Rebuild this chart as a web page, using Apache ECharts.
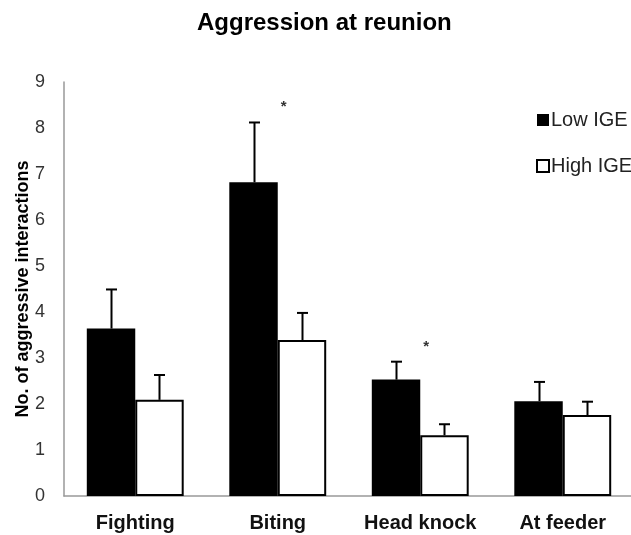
<!DOCTYPE html>
<html>
<head>
<meta charset="utf-8">
<script src="https://cdn.jsdelivr.net/npm/echarts@6/dist/echarts.min.js"></script>
<style>
  html, body { margin: 0; padding: 0; background: #fff; }
  #main { width: 631px; height: 535px; }
</style>
</head>
<body>
<div id="main"></div>
<script>
var categories = ['Fighting', 'Biting', 'Head knock', 'At feeder'];
var lowIGE = [3.64, 6.82, 2.53, 2.06];
var lowIGEErrTop = [4.49, 8.12, 2.92, 2.48];
var highIGE = [2.09, 3.39, 1.32, 1.76];
var highIGEErrTop = [2.63, 3.98, 1.56, 2.05];
// significance stars (height on the y scale), '-' = none
var stars = ['-', 8.46, 3.24, '-'];
var yTicks = [0, 1, 2, 3, 4, 5, 6, 7, 8, 9];

var BAR_FRAC = 0.34;

function errData (vals, tops) {
  return vals.map(function (v, i) { return [i, v, tops[i]]; });
}

function errRender (side) {
  return function (params, api) {
    var band = api.size([1, 0])[0];
    var off = side * band * BAR_FRAC / 2;
    var p0 = api.coord([api.value(0), api.value(1)]);
    var p1 = api.coord([api.value(0), api.value(2)]);
    var x = Math.round(p0[0] + off) + 0.5;
    var st = { stroke: '#000', lineWidth: 2 };
    return {
      type: 'group',
      children: [
        { type: 'line', shape: { x1: x, y1: p0[1], x2: x, y2: p1[1] }, style: st },
        { type: 'line', shape: { x1: x - 5.5, y1: p1[1], x2: x + 5.5, y2: p1[1] }, style: st }
      ]
    };
  };
}

var chart = echarts.init(document.getElementById('main'));
var option = {
  animation: false,
  backgroundColor: '#fff',
  title: {
    text: 'Aggression at reunion',
    left: 192,
    top: 6,
    textStyle: { fontFamily: 'Liberation Sans', fontSize: 24, fontWeight: 'bold', color: '#000' }
  },
  legend: {
    data: ['Low IGE', 'High IGE'],
    orient: 'vertical',
    left: 531,
    top: 105,
    itemWidth: 12,
    itemHeight: 12,
    itemGap: 26,
    icon: 'rect',
    textStyle: { fontFamily: 'Liberation Sans', fontSize: 20, color: '#222', padding: [0, 0, 0, -3] }
  },
  grid: { left: 64, width: 570, top: 82, bottom: 39, outerBoundsMode: 'none', containLabel: false },
  xAxis: {
    type: 'category',
    data: categories,
    axisLine: { lineStyle: { color: '#999', width: 1.5 } },
    axisTick: { show: false },
    axisLabel: {
      interval: 0,
      hideOverlap: false,
      margin: 17,
      fontFamily: 'Liberation Sans',
      fontSize: 20,
      fontWeight: 'bold',
      color: '#111'
    }
  },
  yAxis: {
    type: 'value',
    min: yTicks[0],
    max: yTicks[yTicks.length - 1],
    interval: 1,
    name: 'No. of aggressive interactions',
    nameLocation: 'middle',
    nameGap: 32,
    nameMoveOverlap: false,
    nameTextStyle: { fontFamily: 'Liberation Sans', fontSize: 18, fontWeight: 'bold', color: '#000' },
    axisLine: { show: true, lineStyle: { color: '#999', width: 1.5 } },
    axisTick: { show: false },
    splitLine: { show: false },
    axisLabel: { margin: 19, fontFamily: 'Liberation Sans', fontSize: 18, color: '#333' }
  },
  series: [
    {
      name: 'Low IGE',
      type: 'bar',
      data: lowIGE,
      barWidth: (BAR_FRAC * 100) + '%',
      barGap: '0%',
      itemStyle: { color: '#000', borderColor: '#000', borderWidth: 0 }
    },
    {
      name: 'High IGE',
      type: 'bar',
      data: highIGE,
      barWidth: (BAR_FRAC * 100) + '%',
      barGap: '0%',
      itemStyle: { color: '#fff', borderColor: '#000', borderWidth: 2 }
    },
    {
      type: 'custom',
      data: errData(lowIGE, lowIGEErrTop),
      renderItem: errRender(-1),
      z: 5,
      silent: true
    },
    {
      type: 'custom',
      data: errData(highIGE, highIGEErrTop),
      renderItem: errRender(1),
      z: 5,
      silent: true
    },
    {
      type: 'custom',
      data: stars.map(function (s, i) { return [i, s]; }),
      renderItem: function (params, api) {
        if (isNaN(api.value(1))) return;
        var p = api.coord([api.value(0), api.value(1)]);
        return {
          type: 'text',
          x: p[0] + 6,
          y: p[1],
          style: {
            text: '*',
            fill: '#333',
            font: 'bold 15px Liberation Sans',
            textAlign: 'center',
            textVerticalAlign: 'middle'
          }
        };
      },
      z: 5,
      silent: true
    }
  ]
};
chart.setOption(option);
</script>
</body>
</html>
